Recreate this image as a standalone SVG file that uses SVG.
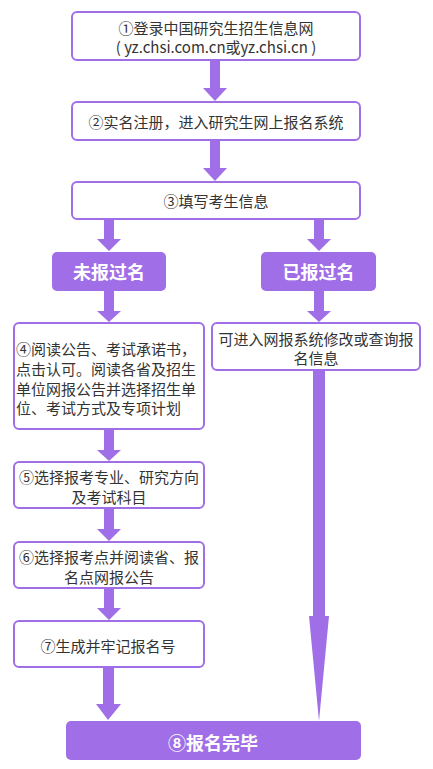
<svg xmlns="http://www.w3.org/2000/svg" width="433" height="769" viewBox="0 0 433 769">
<style>
.box{fill:#fff;stroke:#a06ee6;stroke-width:2}
.solid{fill:#a06ee6}
.t{font-family:"Microsoft YaHei","Noto Sans CJK SC",sans-serif;font-size:15px;fill:#333;text-anchor:middle;dominant-baseline:central}
.tl{text-anchor:start}
.w{font-family:"Microsoft YaHei","Noto Sans CJK SC",sans-serif;font-size:18px;font-weight:bold;fill:#fff;text-anchor:middle;dominant-baseline:central}
.arr{fill:#a06ee6}
</style>
<rect width="433" height="769" fill="#fff"/>
<g id="connectors">
<polygon class="arr" points="210,60 220,60 220,88 227,88 215,101 203,88 210,88"/>
<polygon class="arr" points="210,140 220,140 220,168 227,168 215,181 203,168 210,168"/>
<polygon class="arr" points="104,219 114,219 114,239 121,239 109,251 97,239 104,239"/>
<polygon class="arr" points="314,219 324,219 324,239 331,239 319,251 307,239 314,239"/>
<polygon class="arr" points="104,291 114,291 114,311 121,311 109,322 97,311 104,311"/>
<polygon class="arr" points="314,291 324,291 324,311 331,311 319,322 307,311 314,311"/>
<polygon class="arr" points="104,429 114,429 114,450 121,450 109,461 97,450 104,450"/>
<polygon class="arr" points="104,508 114,508 114,529 121,529 109,541 97,529 104,529"/>
<polygon class="arr" points="104,588 114,588 114,608 121,608 109,620 97,608 104,608"/>
<polygon class="arr" points="103,667 114,667 114,704 121,704 108,720 96,704 103,704"/>
<polygon class="arr" points="313,370 325,370 325,616 329,616 319,721 309,616 313,616"/>
</g>
<g id="n1">
<rect class="box" x="72" y="12" width="288" height="48" rx="5"/>
<text class="t" x="216" y="27">①登录中国研究生招生信息网</text>
<text class="t" x="216" y="46">( yz.chsi.com.cn或yz.chsi.cn )</text>
</g>
<g id="n2">
<rect class="box" x="72" y="102" width="288" height="38" rx="5"/>
<text class="t" x="216" y="121">②实名注册，进入研究生网上报名系统</text>
</g>
<g id="n3">
<rect class="box" x="72" y="182" width="288" height="37" rx="5"/>
<text class="t" x="216" y="200">③填写考生信息</text>
</g>
<g id="n-not">
<rect class="solid" x="52" y="252" width="114" height="39" rx="5"/>
<text class="w" x="109" y="271">未报过名</text>
</g>
<g id="n-done">
<rect class="solid" x="261" y="252" width="115" height="39" rx="5"/>
<text class="w" x="318.5" y="271">已报过名</text>
</g>
<g id="n4">
<rect class="box" x="14" y="323" width="190" height="106" rx="5"/>
<text class="t tl" x="16" y="348">④阅读公告、考试承诺书，</text>
<text class="t tl" x="16" y="368">点击认可。阅读各省及招生</text>
<text class="t tl" x="16" y="388">单位网报公告并选择招生单</text>
<text class="t tl" x="16" y="407">位、考试方式及专项计划</text>
</g>
<g id="n-modify">
<rect class="box" x="212" y="323" width="208" height="47" rx="5"/>
<text class="t" x="316" y="338">可进入网报系统修改或查询报</text>
<text class="t" x="316" y="357">名信息</text>
</g>
<g id="n5">
<rect class="box" x="14" y="462" width="190" height="46" rx="5"/>
<text class="t" x="109" y="476">⑤选择报考专业、研究方向</text>
<text class="t" x="109" y="496">及考试科目</text>
</g>
<g id="n6">
<rect class="box" x="14" y="542" width="190" height="46" rx="5"/>
<text class="t" x="109" y="556">⑥选择报考点并阅读省、报</text>
<text class="t" x="109" y="576">名点网报公告</text>
</g>
<g id="n7">
<rect class="box" x="14" y="621" width="190" height="46" rx="5"/>
<text class="t" x="108" y="645">⑦生成并牢记报名号</text>
</g>
<g id="n8">
<rect class="solid" x="66" y="721" width="295" height="39" rx="5"/>
<text class="w" x="213" y="742">⑧报名完毕</text>
</g>
</svg>
